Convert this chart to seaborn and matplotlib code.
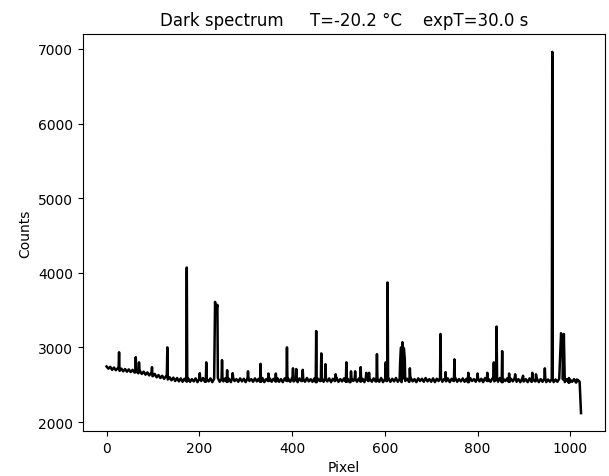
import pandas as pd
import matplotlib
matplotlib.use('Agg')
import matplotlib.pyplot as plt
import seaborn as sns

# 바탕(baseline) 값: 4픽셀 간격으로 그림에서 읽은 값 (마지막 1023은 끝의 급락)
base_pixel = list(range(0, 1021, 4)) + [1023]
base_counts = [2745, 2715, 2740, 2700, 2730, 2695, 2720, 2685, 2715, 2680, 2710, 2675, 2705, 2670, 2700, 2665,
               2695, 2655, 2685, 2645, 2675, 2635, 2665, 2625, 2655, 2615, 2645, 2600, 2630, 2590, 2620, 2580,
               2610, 2570, 2600, 2560, 2595, 2550, 2590, 2545, 2585, 2540, 2580, 2545, 2585, 2540, 2575, 2545,
               2585, 2535, 2580, 2550, 2590, 2540, 2575, 2545, 2585, 2535, 2580, 2550, 2590, 2540, 2575, 2545,
               2585, 2540, 2580, 2535, 2590, 2550, 2575, 2540, 2585, 2545, 2580, 2535, 2590, 2550, 2575, 2540,
               2585, 2545, 2580, 2540, 2590, 2535, 2575, 2550, 2585, 2540, 2580, 2545, 2590, 2540, 2575, 2535,
               2585, 2550, 2580, 2540, 2590, 2545, 2575, 2535, 2585, 2550, 2580, 2540, 2590, 2545, 2575, 2540,
               2585, 2535, 2580, 2550, 2590, 2540, 2575, 2545, 2585, 2535, 2580, 2550, 2590, 2540, 2575, 2545,
               2585, 2540, 2580, 2535, 2590, 2550, 2575, 2540, 2585, 2545, 2580, 2535, 2590, 2550, 2575, 2540,
               2585, 2545, 2580, 2540, 2590, 2535, 2575, 2550, 2585, 2540, 2580, 2545, 2590, 2540, 2575, 2535,
               2585, 2550, 2580, 2540, 2590, 2545, 2575, 2535, 2585, 2550, 2580, 2540, 2590, 2545, 2575, 2540,
               2585, 2535, 2580, 2550, 2590, 2540, 2575, 2545, 2585, 2535, 2580, 2550, 2590, 2540, 2575, 2545,
               2585, 2540, 2580, 2535, 2590, 2550, 2575, 2540, 2585, 2545, 2580, 2535, 2590, 2550, 2575, 2540,
               2585, 2545, 2580, 2540, 2590, 2535, 2575, 2550, 2585, 2540, 2580, 2545, 2590, 2540, 2575, 2535,
               2580, 2545, 2575, 2535, 2585, 2540, 2570, 2545, 2580, 2535, 2575, 2540, 2585, 2535, 2570, 2540,
               2575, 2535, 2570, 2540, 2580, 2530, 2570, 2535, 2575, 2530, 2565, 2540, 2575, 2530, 2565, 2540,
               2120]

# 스파이크(peak) 위치와 높이
peak_pixel = [27, 63, 70, 98, 131, 173, 201, 215, 234, 236, 239, 249, 260, 272, 305, 332, 349, 365,
              389, 402, 409, 423, 452, 463, 472, 494, 517, 527, 536, 548, 560, 566, 583, 602, 606,
              633, 635, 638, 641, 643, 654, 720, 731, 750, 780, 800, 821, 835, 841, 853, 868, 881,
              898, 918, 926, 945, 961, 980, 983, 986, 997, 1014]
peak_counts = [2935, 2870, 2800, 2735, 3000, 4070, 2655, 2800, 3610, 3450, 3570, 2830, 2695, 2655, 2680, 2780, 2650, 2650,
               3000, 2720, 2710, 2700, 3220, 2920, 2775, 2640, 2800, 2680, 2680, 2735, 2660, 2660, 2910, 2800, 3870,
               2800, 3000, 3070, 2990, 2850, 2720, 3180, 2670, 2840, 2660, 2650, 2660, 2800, 3280, 2950, 2650, 2640,
               2620, 2660, 2640, 2720, 6960, 3190, 3080, 3180, 2590, 2570]

base = dict(zip(base_pixel, base_counts))

# 스파이크 양옆은 가장 가까운 바탕 값으로 (좁은 스파이크)
flank_pixel, flank_counts = [], []
for p in peak_pixel:
    if all(abs(p - o) > 3 for o in peak_pixel if o != p):
        for q in (p - 1, p + 1):
            flank_pixel.append(q)
            flank_counts.append(base[min(base_pixel, key=lambda b: abs(b - q))])

df = pd.concat([pd.DataFrame({'Pixel': peak_pixel, 'Counts': peak_counts}),
                pd.DataFrame({'Pixel': flank_pixel, 'Counts': flank_counts}),
                pd.DataFrame({'Pixel': base_pixel, 'Counts': base_counts})])
df = df.drop_duplicates('Pixel').sort_values('Pixel')

fig = plt.figure(figsize=(6.09, 4.77), dpi=100)
ax = fig.add_axes([0.136, 0.094, 0.857, 0.833])
sns.lineplot(data=df, x='Pixel', y='Counts', color='black', lw=1.8, ax=ax)
ax.set_title('Dark spectrum     T=-20.2 °C    expT=30.0 s')
ax.set_xlabel('Pixel')
ax.set_ylabel('Counts')
fig.savefig('out.png', dpi=100)
